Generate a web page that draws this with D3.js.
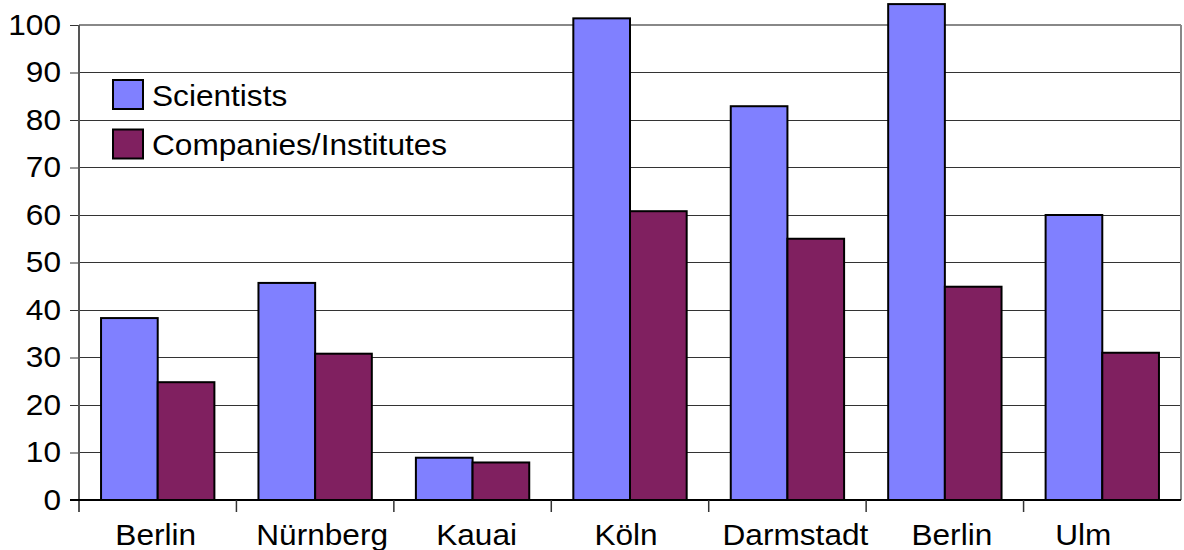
<!DOCTYPE html>
<html><head><meta charset="utf-8">
<script src="https://cdn.jsdelivr.net/npm/d3@7"></script>
<style>body{margin:0;background:#fff}svg{display:block}text{font-family:"Liberation Sans",Arial,sans-serif;fill:#000}</style>
</head><body><svg id="c" width="1184" height="550"></svg>
<script>
const categories = ["Berlin","Nürnberg","Kauai","Köln","Darmstadt","Berlin","Ulm"];
const seriesNames = ["Scientists","Companies/Institutes"];
const scientists = [38.3, 45.7, 8.9, 101.4, 82.9, 104.4, 60];
const companies = [24.8, 30.8, 7.9, 60.8, 55, 44.9, 31];
const yTicks = [0,10,20,30,40,50,60,70,80,90,100];
const colors = ["#8080FF","#802060"];
// small layout nudges of category labels, as in the original picture
const labelShift = [-2, 7, 4, -4, 8, 7, -19];

const svg = d3.select("#c");
const L = 79, R = 1181, T = 25, B = 500;
const x0 = d3.scaleBand().domain(d3.range(categories.length)).range([L,R]).paddingInner(0.28).paddingOuter(0.14);
const x1 = d3.scaleBand().domain([0,1]).range([0,x0.bandwidth()]);
const y = d3.scaleLinear().domain([0,100]).range([B,T]);
const fs = 29, sx = 1.09;

// gridlines
svg.append("g").selectAll("line").data(yTicks.filter(d=>d>0 && d<100)).join("line")
  .attr("x1",L).attr("x2",R).attr("y1",d=>y(d)).attr("y2",d=>y(d))
  .attr("stroke","#333").attr("stroke-width",1).attr("shape-rendering","crispEdges");
// top & right border
svg.append("line").attr("x1",L).attr("x2",R).attr("y1",y(100)).attr("y2",y(100)).attr("stroke","#888").attr("stroke-width",2);
svg.append("line").attr("x1",R).attr("x2",R).attr("y1",y(100)).attr("y2",B).attr("stroke","#888").attr("stroke-width",2);

// bars
const groups = svg.append("g").selectAll("g").data(categories.map((c,i)=>i)).join("g")
  .attr("transform",i=>`translate(${x0(i)},0)`);
groups.selectAll("rect").data(i=>[scientists[i],companies[i]]).join("rect")
  .attr("x",(d,j)=>x1(j)).attr("width",x1.bandwidth())
  .attr("y",d=>y(d)).attr("height",d=>B-y(d))
  .attr("fill",(d,j)=>colors[j]).attr("stroke","#000").attr("stroke-width",2);

// y axis
const yAxis = d3.axisLeft(y).tickValues(yTicks).tickSize(9).tickPadding(7.5);
const ga = svg.append("g").attr("transform",`translate(${L},0)`).call(yAxis);
ga.select(".domain").remove();
ga.selectAll(".tick line").attr("stroke","#333");
ga.selectAll(".tick text").attr("font-size",fs).attr("font-family","Liberation Sans, Arial, sans-serif")
  .attr("fill","#000").attr("transform",`scale(${sx},1)`);
svg.append("line").attr("x1",L).attr("x2",L).attr("y1",y(100)).attr("y2",B+12).attr("stroke","#555").attr("stroke-width",2);

// x axis
svg.append("line").attr("x1",L-9).attr("x2",R).attr("y1",B).attr("y2",B).attr("stroke","#000").attr("stroke-width",2);
const xTicksPos = d3.range(categories.length).map(i=>x0(i)-x0.step()*0.14);
svg.append("g").selectAll("line").data(xTicksPos.slice(1)).join("line")
  .attr("x1",d=>d).attr("x2",d=>d).attr("y1",B).attr("y2",B+12).attr("stroke","#333").attr("stroke-width",1.5);
svg.append("g").selectAll("text").data(categories).join("text")
  .attr("transform",(d,i)=>`translate(${x0(i)+x0.bandwidth()/2+labelShift[i]},545) scale(${sx},1)`)
  .attr("text-anchor","middle").attr("font-size",fs).text(d=>d);

// legend
const lg = svg.append("g").selectAll("g").data(seriesNames).join("g")
  .attr("transform",(d,i)=>`translate(113,${80+i*49.5})`);
lg.append("rect").attr("width",30).attr("height",29).attr("fill",(d,i)=>colors[i]).attr("stroke","#000").attr("stroke-width",2);
lg.append("text").attr("transform",`translate(39,25.5) scale(${sx},1)`).attr("font-size",fs).text(d=>d);
</script></body></html>
